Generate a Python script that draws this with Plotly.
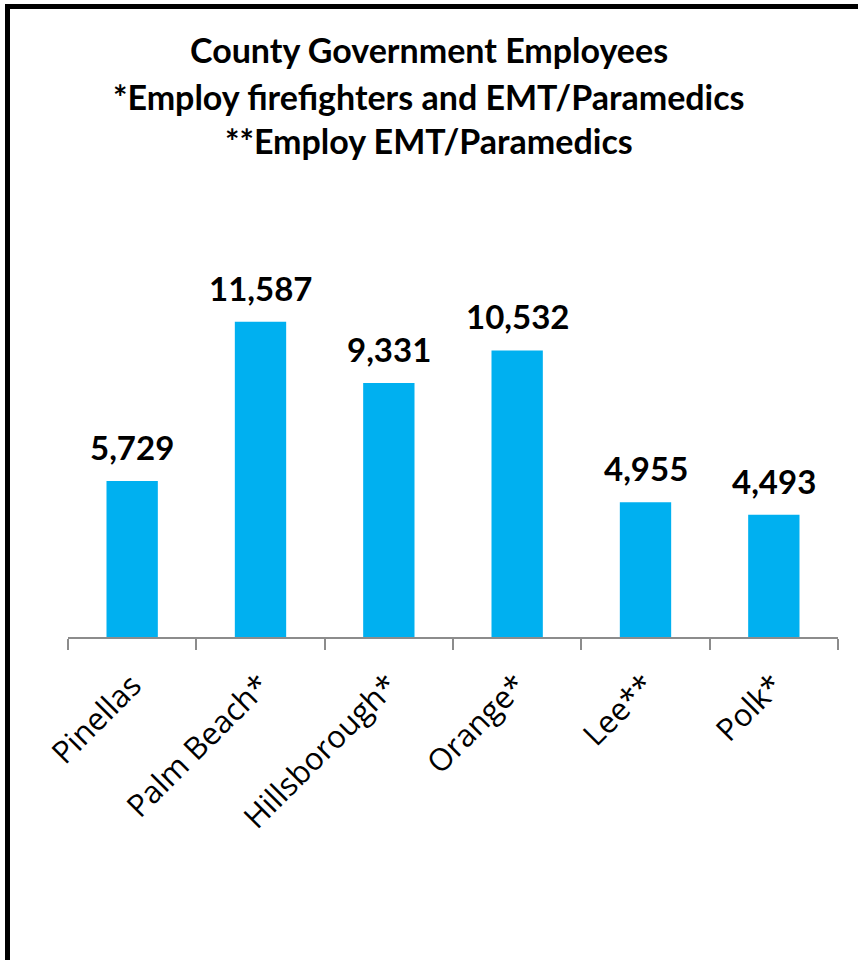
import plotly.graph_objects as go

categories = ["Pinellas", "Palm Beach*", "Hillsborough*", "Orange*", "Lee**", "Polk*"]
employees = [5729, 11587, 9331, 10532, 4955, 4493]
title_lines = ["County Government Employees",
               "*Employ firefighters and EMT/Paramedics",
               "**Employ EMT/Paramedics"]

W, H = 858, 960
L, R, T, B = 68, 20, 256, 323
pw, ph = W - L - R, H - T - B

def px_x(x):
    return (x - L) / pw

def px_y(y):
    return (H - B - y) / ph

fig = go.Figure(go.Bar(
    x=categories, y=employees,
    marker=dict(color="#00B0F0", line=dict(width=0)),
    cliponaxis=False, hoverinfo="skip",
))

annotations = []
for line, yc in zip(title_lines, [50, 96, 140]):
    annotations.append(dict(
        text="<b>%s</b>" % line, x=px_x(429), y=px_y(yc), xref="paper", yref="paper",
        xanchor="center", yanchor="middle", showarrow=False,
        font=dict(family="Lato", size=34, color="black"),
    ))
for c, v in zip(categories, employees):
    annotations.append(dict(
        text="<b>{:,}</b>".format(v), x=c, y=v, xref="x", yref="y",
        xanchor="center", yanchor="bottom", yshift=12, showarrow=False,
        font=dict(family="Lato", size=33, color="black"),
    ))

fig.update_layout(
    width=W, height=H,
    margin=dict(l=L, r=R, t=T, b=B, autoexpand=False),
    paper_bgcolor="white", plot_bgcolor="white",
    bargap=0.6, showlegend=False,
    annotations=annotations,
    shapes=[dict(type="rect", xref="paper", yref="paper",
                 x0=px_x(7.5), x1=px_x(900), y0=px_y(1000), y1=px_y(6.5),
                 line=dict(color="black", width=5), layer="above")],
    xaxis=dict(
        type="category", tickson="boundaries", ticks="outside", ticklen=11,
        tickcolor="#8c8c8c", tickwidth=2, showline=True, linecolor="#8c8c8c",
        linewidth=2, tickangle=-45, showgrid=False, ticklabelstandoff=16,
        tickfont=dict(family="Open Sans", size=31, color="black"),
    ),
    yaxis=dict(range=[0, 14000], visible=False, showgrid=False, zeroline=False),
)

fig.write_html("out.html", config={"displayModeBar": False},
               post_script="document.body.style.margin='0';document.body.style.overflow='hidden';")
